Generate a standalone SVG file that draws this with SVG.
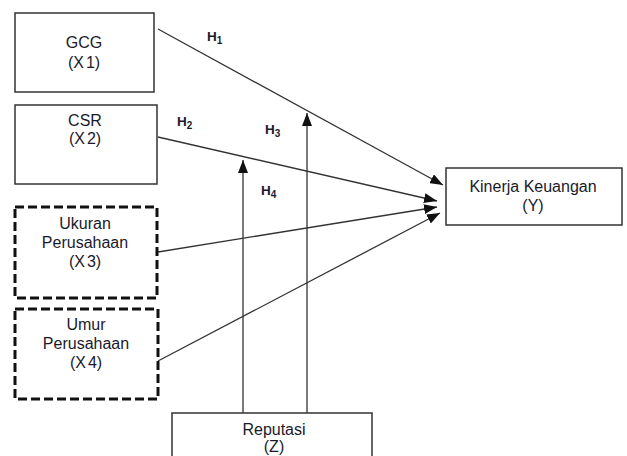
<svg xmlns="http://www.w3.org/2000/svg" width="627" height="456" viewBox="0 0 627 456">
  <defs>
    <marker id="arrow" markerUnits="userSpaceOnUse" markerWidth="13" markerHeight="10" viewBox="0 0 13 10" refX="13" refY="5" orient="auto">
      <path d="M0,0 L13,5 L0,10 Z" fill="#111"/>
    </marker>
    <style>
      .box { fill: #fff; stroke: #333; stroke-width: 1.5; }
      .dash { fill: #fff; stroke: #111; stroke-width: 3; stroke-dasharray: 9 4; }
      .lbl { font-family: "Liberation Sans", Arial, sans-serif; font-size: 16px; fill: #1a1a2a; text-anchor: middle; }
      .hyp { font-family: "Liberation Sans", Arial, sans-serif; font-size: 13.5px; font-weight: bold; fill: #1a1a2a; }
      .sub { font-size: 10px; }
      .edge { stroke: #333; stroke-width: 1.3; fill: none; marker-end: url(#arrow); }
    </style>
  </defs>
  <rect width="627" height="456" fill="#fff"/>

  <g id="connectors">
    <line class="edge" x1="158" y1="29" x2="443" y2="185"/>
    <line class="edge" x1="158" y1="137" x2="437" y2="201"/>
    <line class="edge" x1="158" y1="252" x2="437" y2="207"/>
    <line class="edge" x1="158" y1="361" x2="440" y2="213"/>
    <line class="edge" x1="243" y1="413" x2="243" y2="160"/>
    <line class="edge" x1="307" y1="413" x2="307" y2="113"/>
  </g>

  <g id="hypotheses">
    <text class="hyp" x="207" y="41">H<tspan class="sub" dy="3">1</tspan></text>
    <text class="hyp" x="177" y="126">H<tspan class="sub" dy="3">2</tspan></text>
    <text class="hyp" x="265" y="134">H<tspan class="sub" dy="3">3</tspan></text>
    <text class="hyp" x="261" y="195">H<tspan class="sub" dy="3">4</tspan></text>
  </g>

  <g id="gcg">
    <rect class="box" x="15" y="13" width="139" height="79"/>
    <text class="lbl" x="84" y="48">GCG</text>
    <text class="lbl" x="84" y="68">(X<tspan dx="2">1)</tspan></text>
  </g>

  <g id="csr">
    <rect class="box" x="15" y="105" width="142" height="79"/>
    <text class="lbl" x="85" y="126">CSR</text>
    <text class="lbl" x="85" y="144">(X<tspan dx="2">2)</tspan></text>
  </g>

  <g id="ukuran">
    <rect class="dash" x="15" y="207" width="142" height="91"/>
    <text class="lbl" x="85" y="229">Ukuran</text>
    <text class="lbl" x="85" y="248">Perusahaan</text>
    <text class="lbl" x="85" y="267">(X<tspan dx="2">3)</tspan></text>
  </g>

  <g id="umur">
    <rect class="dash" x="15" y="309" width="143" height="90"/>
    <text class="lbl" x="86" y="330">Umur</text>
    <text class="lbl" x="86" y="349">Perusahaan</text>
    <text class="lbl" x="86" y="368">(X<tspan dx="2">4)</tspan></text>
  </g>

  <g id="kinerja">
    <rect class="box" x="446" y="168" width="176" height="57"/>
    <text class="lbl" x="533" y="192">Kinerja Keuangan</text>
    <text class="lbl" x="533" y="211">(Y)</text>
  </g>

  <g id="reputasi">
    <rect class="box" x="172" y="413" width="200" height="60"/>
    <text class="lbl" x="274" y="435">Reputasi</text>
    <text class="lbl" x="274" y="452">(Z)</text>
  </g>
</svg>
